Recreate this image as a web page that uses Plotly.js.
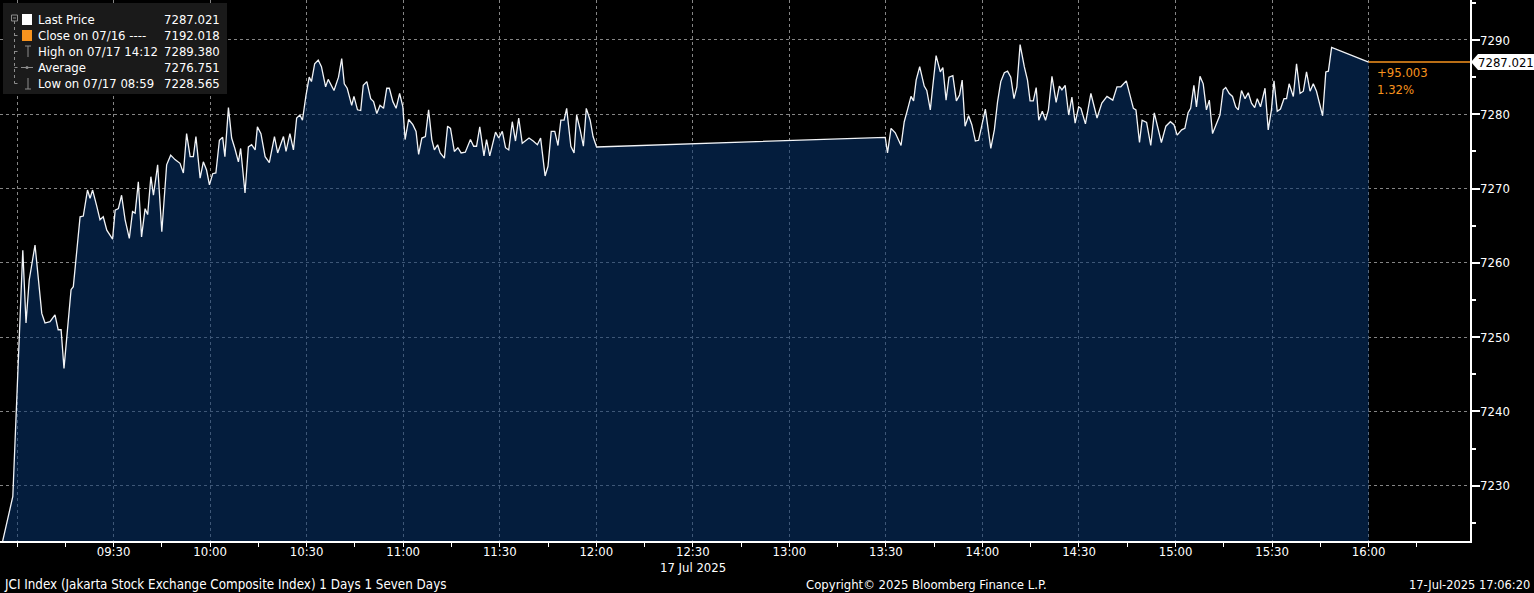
<!DOCTYPE html>
<html>
<head>
<meta charset="utf-8">
<script src="https://cdn.plot.ly/plotly-3.0.1.min.js"></script>
<style>
  html, body { margin: 0; padding: 0; background: #000; }
  #chart { width: 1534px; height: 593px; }
</style>
</head>
<body>
<div id="chart"></div>
<script>
// ---------------- DATA ----------------
// minutes after 09:00 on 17 Jul 2025, and JCI index level
const minutesAM = [
  -4.75, -1.3,
  1.8, 2.8, 3.8, 5.6, 7.7, 8.7, 10.25, 11.8, 12.8, 13.7,
  14.6, 16.0, 16.8, 17.5, 18.75, 19.6, 20.6, 21.9, 22.7, 23.5,
  24.8, 25.8, 26.8, 27.9, 29.7, 30.5, 31.5, 32.5, 33.6, 34.9,
  35.9, 36.7, 37.7, 38.7, 39.8, 40.6, 41.6, 42.4, 43.7, 45.0,
  46.5, 47.75, 49.1, 50.65, 51.7, 52.7, 53.8, 54.8, 55.6, 56.9,
  57.9, 58.9, 59.8, 60.8, 61.8, 62.9, 63.9, 64.6, 65.7, 66.7,
  67.7, 68.8, 69.5, 70.85, 71.9, 72.9, 74.0, 74.7, 75.8, 77.1,
  78.4, 80.0, 81.0, 82.8, 83.6, 84.8, 85.9, 86.9, 87.9,
  88.7, 89.75, 90.8, 91.5, 92.5, 93.6, 94.6, 95.9, 96.7, 98.5,
  99.9, 100.9, 101.7, 102.6, 104.0, 104.7, 105.8, 106.8, 107.6, 108.7,
  109.9, 110.8, 111.8, 112.8, 113.9, 114.9, 115.7, 116.8, 117.8, 118.9,
  119.9, 120.6, 121.7, 123.0, 124.0, 124.8, 125.8, 126.9, 127.9, 128.9,
  129.7, 130.7, 131.5, 132.8, 133.8, 134.7, 135.9, 137.0, 138.0, 139.3,
  140.9, 141.9, 142.8, 143.8, 145.1, 145.9, 146.9, 148.7, 149.7, 150.8,
  151.8, 152.8, 153.9, 154.9, 155.9, 157.0, 159.1, 160.4, 161.7, 162.7,
  164.1, 165.0, 166.0, 167.1, 168.1, 169.0, 170.0, 170.8, 172.1, 173.1,
  173.9, 175.0, 176.0, 176.9, 178.1, 179.0, 180.1
];
const pricesAM = [
  7222.0, 7228.565,
  7261.7, 7251.9, 7257.7, 7262.4, 7253.2, 7251.9, 7252.1, 7253.0, 7251.0, 7251.0,
  7245.8, 7252.3, 7256.4, 7256.8, 7262.2, 7266.2, 7266.3, 7269.8, 7268.7, 7269.8,
  7267.6, 7265.8, 7266.2, 7264.4, 7263.2, 7267.1, 7267.3, 7269.1, 7265.8, 7263.3,
  7266.9, 7266.7, 7270.9, 7263.5, 7267.3, 7266.5, 7271.6, 7269.1, 7273.2, 7264.2,
  7273.2, 7274.5, 7273.9, 7273.4, 7272.1, 7277.4, 7274.3, 7274.3, 7277.0, 7271.4,
  7273.6, 7272.5, 7270.5, 7272.0, 7272.1, 7276.5, 7276.9, 7274.3, 7280.9, 7276.8,
  7275.4, 7273.6, 7275.4, 7269.4, 7275.6, 7275.9, 7275.2, 7278.3, 7277.4, 7274.3,
  7273.5, 7277.0, 7274.8, 7277.0, 7275.0, 7277.4, 7275.2, 7279.5, 7279.9,
  7279.2, 7282.4, 7285.0, 7284.4, 7286.8, 7287.3, 7286.4, 7283.7, 7284.7, 7283.2,
  7285.0, 7287.5, 7284.1, 7283.5, 7281.2, 7282.4, 7280.6, 7280.5, 7283.9, 7284.4,
  7282.1, 7281.7, 7280.1, 7281.2, 7280.8, 7283.5, 7283.5, 7281.7, 7280.8, 7282.8,
  7281.0, 7276.6, 7279.3, 7278.6, 7277.7, 7274.6, 7276.8, 7277.0, 7280.6, 7276.6,
  7275.2, 7275.9, 7274.8, 7274.1, 7278.4, 7278.1, 7275.0, 7275.5, 7274.8, 7274.9,
  7276.6, 7275.7, 7275.7, 7278.3, 7274.4, 7276.6, 7274.4, 7277.6, 7276.8, 7277.7,
  7275.5, 7275.2, 7279.0, 7276.4, 7279.5, 7276.1, 7276.8, 7276.4, 7275.9, 7276.8,
  7271.7, 7273.0, 7277.7, 7277.7, 7275.8, 7279.2, 7279.2, 7280.8, 7275.7, 7274.8,
  7279.9, 7277.9, 7275.7, 7280.8, 7279.2, 7277.0, 7275.6
];
const minutesPM = [
  269.8, 270.5, 271.6, 272.9, 274.7, 275.7, 276.7, 277.8, 278.6, 279.4,
  280.5, 281.9, 282.7, 283.8, 284.6, 285.6, 286.9, 287.7, 288.7, 289.6,
  290.8, 291.9, 292.9, 293.7, 294.6, 295.7, 296.7, 297.8, 298.8, 300.9,
  302.6, 303.7, 304.7, 305.7, 306.8, 307.8, 308.8, 309.8, 310.7, 311.7,
  313.0, 314.0, 314.8, 315.8, 316.7, 317.5, 318.6, 319.6, 320.5, 321.6,
  322.9, 323.9, 324.7, 325.7, 326.8, 327.8, 328.8, 329.9, 330.6, 332.0,
  333.7, 335.6, 337.1, 338.7, 340.5, 341.8, 343.0, 344.7, 346.9, 347.7,
  348.8, 349.6, 351.0, 352.3,
  353.4, 354.3, 355.6, 357.0, 358.4, 359.5, 360.5, 361.9, 362.9, 363.9,
  364.7, 365.7, 366.5, 367.6, 368.6, 369.6, 370.5, 371.5, 372.7, 373.8,
  374.8, 375.6, 376.7, 377.7, 378.7, 379.5, 380.5, 381.6, 382.6, 383.6,
  384.6, 385.4, 386.4, 387.8, 388.8, 389.8, 390.6, 391.6, 392.6, 393.7,
  394.5, 395.3, 396.6, 397.6, 398.7, 399.7, 400.7, 401.8, 402.8, 403.8,
  405.7, 406.7, 407.5, 408.5, 420.0
];
const pricesPM = [
  7276.9, 7274.8, 7278.1, 7277.5, 7275.8, 7279.0, 7280.6, 7282.4, 7281.8, 7284.6,
  7286.4, 7283.8, 7283.2, 7280.6, 7283.9, 7287.9, 7285.7, 7286.3, 7281.9, 7285.0,
  7285.2, 7281.8, 7282.6, 7284.6, 7278.4, 7279.8, 7278.6, 7276.4, 7276.5, 7280.7,
  7275.4, 7277.9, 7281.7, 7284.4, 7285.6, 7285.8, 7285.0, 7282.1, 7283.7, 7289.38,
  7286.4, 7284.6, 7281.8, 7281.8, 7283.6, 7279.2, 7280.4, 7279.2, 7280.6, 7285.1,
  7281.6, 7283.8, 7283.3, 7283.9, 7279.9, 7282.3, 7278.8, 7281.0, 7280.8, 7278.7,
  7282.8, 7279.5, 7281.5, 7282.4, 7281.9, 7283.7, 7283.7, 7284.5, 7280.8, 7280.6,
  7276.2, 7279.2, 7278.9, 7275.8,
  7280.2, 7278.4, 7276.2, 7278.4, 7279.0, 7278.6, 7277.2, 7277.9, 7278.1, 7280.2,
  7280.8, 7283.9, 7281.0, 7285.1, 7284.1, 7280.6, 7281.9, 7277.4, 7278.8, 7279.9,
  7283.3, 7283.6, 7282.8, 7282.4, 7281.0, 7280.6, 7283.2, 7282.1, 7282.9, 7281.5,
  7280.9, 7282.1, 7281.0, 7283.5, 7277.9, 7280.6, 7284.5, 7280.4, 7280.7, 7282.1,
  7282.1, 7284.1, 7282.4, 7286.8, 7282.8, 7283.1, 7285.7, 7283.1, 7284.1, 7283.1,
  7279.8, 7285.7, 7285.8, 7289.0, 7287.021
];

const tickLabels = ['09:30','10:00','10:30','11:00','11:30','12:00','12:30','13:00',
                    '13:30','14:00','14:30','15:00','15:30','16:00'];
const legendLabels = ['Last Price', 'Close on 07/16 ----', 'High on 07/17 14:12', 'Average', 'Low on 07/17 08:59'];
const legendValues = ['7287.021', '7192.018', '7289.380', '7276.751', '7228.565'];
const prevClose = 7192.018;
const lastPrice = 7287.021;
const dateLabel = '17 Jul 2025';
const footerLeft = 'JCI Index (Jakarta Stock Exchange Composite Index) 1 Days 1 Seven Days';
const footerMid = 'Copyright\u00A9 2025 Bloomberg Finance L.P.';
const footerRight = '17-Jul-2025 17:06:20';

// ---------------- HELPERS ----------------
const DAY = '2025-07-17';
const pad = n => String(n).padStart(2, '0');
function t(min) {
  const total = 9 * 3600 + Math.round(min * 60);
  return `${DAY} ${pad(Math.floor(total / 3600))}:${pad(Math.floor((total % 3600) / 60))}:${pad(total % 60)}`;
}
const hm = s => `${DAY} ${s}:00`;

const xs = minutesAM.concat(minutesPM).map(t);
const ys = pricesAM.concat(pricesPM);
const lastTime = xs[xs.length - 1];

const W = 1470, H = 541;             // plot area size in px
const xp = x => x / W;               // page px -> paper
const yp = y => 1 - y / H;
const yMin = 7222.57, yMax = 7295.38;
const k = (yMax - yMin) / H;         // data units per px

const FONT = 'DejaVu Sans Condensed, DejaVu Sans, sans-serif';
const ORANGE = '#f7931e';
const GREY = '#8c8c8c';
const xRange = [t(-5.28), t(451.5)];

const tickVals = [hm('09:00')].concat(tickLabels.map(hm));
const tickText = [''].concat(tickLabels);
const minorVals = tickVals.map(v => {
  const d = v.slice(11, 16).split(':').map(Number);
  const m = d[0] * 60 + d[1] + 15;
  return `${DAY} ${pad(Math.floor(m / 60))}:${pad(m % 60)}:00`;
});

// ---------------- TRACE ----------------
const trace = {
  type: 'scatter', mode: 'lines',
  x: xs, y: ys,
  line: { color: '#f2f4f7', width: 1.3 },
  fill: 'tozeroy',
  fillcolor: 'rgba(7,52,108,0.56)',
  hoverinfo: 'skip'
};

// ---------------- SHAPES ----------------
const line = (x0, y0, x1, y1, color, dash, w) => ({
  type: 'line', xref: 'paper', yref: 'paper',
  x0: xp(x0), y0: yp(y0), x1: xp(x1), y1: yp(y1),
  line: { color, width: w || 1, dash: dash || 'solid' }, layer: 'above'
});
const rect = (x0, y0, x1, y1, fill, lc) => ({
  type: 'rect', xref: 'paper', yref: 'paper',
  x0: xp(x0), y0: yp(y1), x1: xp(x1), y1: yp(y0),
  fillcolor: fill, line: { width: lc ? 1 : 0, color: lc || fill }, layer: 'above'
});

const rowY = [19.5, 35.5, 51.5, 67.5, 83.5];
const shapes = [
  rect(3, 3, 227, 94, '#1a1a1a'),
  rect(22, 14, 32, 25, '#ffffff'),
  rect(22, 30, 32, 41, ORANGE),
  // tree decorations
  rect(11.5, 15, 17.5, 21, 'rgba(0,0,0,0)', GREY),
  line(13, 18, 16, 18, GREY),
  line(14.5, 21, 14.5, rowY[4], GREY, 'dot'),
  line(14.5, rowY[1], 20, rowY[1], GREY, 'dot'),
  line(14.5, rowY[2], 20, rowY[2], GREY, 'dot'),
  line(14.5, rowY[3], 20, rowY[3], GREY, 'dot'),
  line(14.5, rowY[4], 20, rowY[4], GREY, 'dot'),
  // high icon
  line(28, 46, 28, 57, GREY), line(25, 46, 31, 46, GREY),
  // average icon
  line(21, rowY[3], 33, rowY[3], GREY),
  { type: 'circle', xref: 'paper', yref: 'paper', x0: xp(25.5), x1: xp(28.5), y0: yp(69), y1: yp(66),
    fillcolor: GREY, line: { width: 0 }, layer: 'above' },
  // low icon
  line(28, 78, 28, 89, GREY), line(25, 89, 31, 89, GREY),
  // last price orange line
  { type: 'line', xref: 'x', yref: 'y', x0: lastTime, x1: xRange[1], y0: lastPrice, y1: lastPrice,
    line: { color: ORANGE, width: 1.5 }, layer: 'above' },
  // last price tag box
  { type: 'path', xref: 'paper', yref: 'y', layer: 'above',
    path: `M ${xp(1471)} ${lastPrice} L ${xp(1478)} ${lastPrice + 8 * k} L ${xp(1534)} ${lastPrice + 8 * k} ` +
          `L ${xp(1534)} ${lastPrice - 8 * k} L ${xp(1478)} ${lastPrice - 8 * k} Z`,
    fillcolor: '#ffffff', line: { width: 0 } }
];

// ---------------- ANNOTATIONS ----------------
const white = (size) => ({ family: FONT, size: size || 13, color: '#ffffff' });
const annotations = [];
legendLabels.forEach((lab, i) => {
  annotations.push({ xref: 'paper', yref: 'paper', x: xp(36), y: yp(rowY[i]), xanchor: 'left', yanchor: 'middle',
    text: lab, showarrow: false, font: white(13) });
  annotations.push({ xref: 'paper', yref: 'paper', x: xp(222), y: yp(rowY[i]), xanchor: 'right', yanchor: 'middle',
    text: legendValues[i], showarrow: false, font: white(13) });
});
const change = lastPrice - prevClose;
annotations.push(
  { xref: 'paper', yref: 'y', x: xp(1506), y: lastPrice, xanchor: 'center', yanchor: 'middle',
    text: lastPrice.toFixed(3), showarrow: false, font: { family: FONT, size: 13, color: '#000000' } },
  { xref: 'x', yref: 'y', x: lastTime, y: lastPrice, xanchor: 'left', yanchor: 'top', xshift: 6, yshift: -1,
    align: 'left', showarrow: false, font: { family: FONT, size: 13, color: ORANGE },
    text: `+${change.toFixed(3)}<br>${(change / prevClose * 100).toFixed(2)}%` },
  { xref: 'x', yref: 'paper', x: hm('12:30'), y: yp(567), xanchor: 'center', yanchor: 'middle',
    text: dateLabel, showarrow: false, font: white(13) },
  { xref: 'paper', yref: 'paper', x: xp(2), y: yp(584), xanchor: 'left', yanchor: 'middle',
    text: footerLeft, showarrow: false, font: white(13.3) },
  { xref: 'paper', yref: 'paper', x: xp(926), y: yp(584), xanchor: 'center', yanchor: 'middle',
    text: footerMid, showarrow: false, font: white(13) },
  { xref: 'paper', yref: 'paper', x: xp(1532), y: yp(584), xanchor: 'right', yanchor: 'middle',
    text: footerRight, showarrow: false, font: white(12.7) }
);

// ---------------- LAYOUT ----------------
const layout = {
  width: 1534, height: 593,
  margin: { l: 0, r: 64, t: 0, b: 52, pad: 0 },
  paper_bgcolor: '#000000', plot_bgcolor: '#000000',
  showlegend: false,
  font: { family: FONT, size: 13, color: '#ffffff' },
  xaxis: {
    type: 'date', range: xRange,
    tickmode: 'array', tickvals: tickVals, ticktext: tickText,
    showgrid: true, gridcolor: '#858585', griddash: '3px,3px', gridwidth: 1,
    showline: true, linecolor: '#ffffff', linewidth: 1.5,
    ticks: 'outside', ticklen: 4, tickcolor: '#ffffff', tickwidth: 1,
    minor: { tickmode: 'array', tickvals: minorVals, ticks: 'outside', ticklen: 4, tickcolor: '#ffffff', showgrid: false },
    tickfont: white(13), zeroline: false, fixedrange: true, ticklabelstandoff: -6
  },
  yaxis: {
    side: 'right', range: [yMin, yMax],
    tickmode: 'linear', tick0: 7200, dtick: 10,
    showgrid: true, gridcolor: '#858585', griddash: '3px,3px', gridwidth: 1,
    showline: true, linecolor: '#ffffff', linewidth: 1.5,
    ticks: 'outside', ticklen: 8, tickwidth: 2, tickcolor: '#ffffff',
    minor: { dtick: 5, tick0: 7200, ticks: 'outside', ticklen: 4, tickcolor: '#ffffff', showgrid: false },
    tickfont: white(13), zeroline: false, fixedrange: true, ticklabelstandoff: -2
  },
  shapes, annotations
};

Plotly.newPlot('chart', [trace], layout, { staticPlot: true, displayModeBar: false });
</script>
</body>
</html>
